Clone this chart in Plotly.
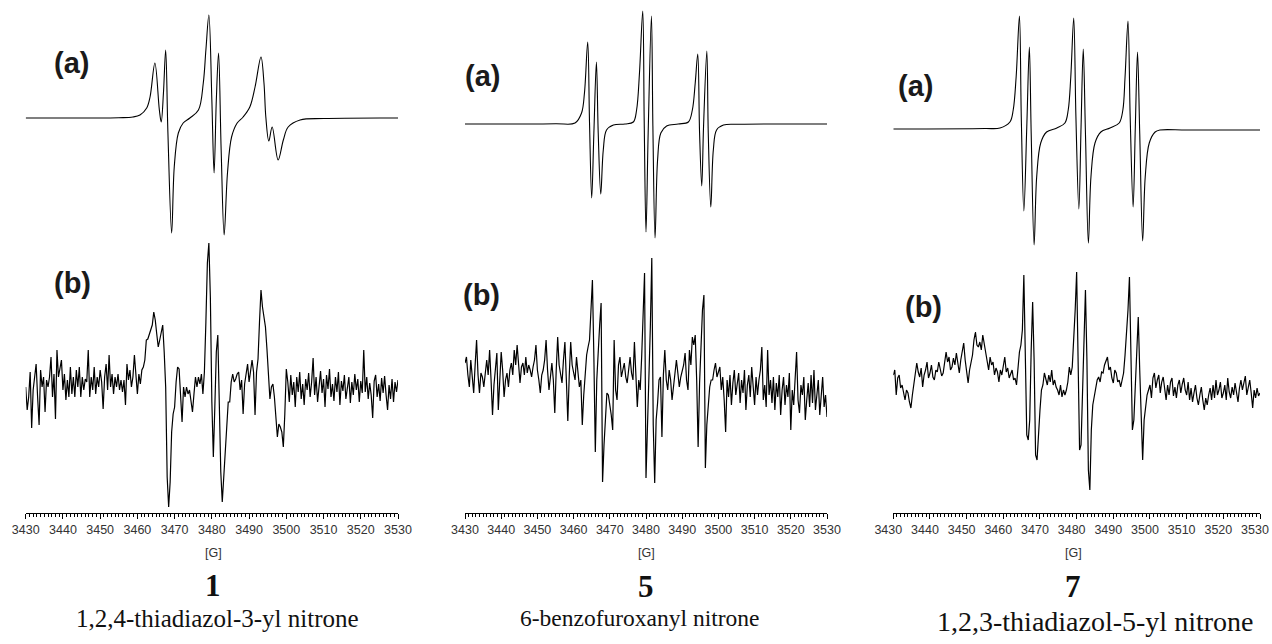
import numpy as np
import plotly.graph_objects as go

# ---------------- data ----------------
# magnetic field axis [G]
FIELD_MIN, FIELD_MAX = 3430, 3530
TICK_VALUES = list(range(3430, 3531, 10))

# (a) simulated spectra: (field [G], signal [a.u.]) key points
A1_FIELD = [3430, 3455, 3458.8, 3460.7, 3462.5, 3463.4, 3464.7, 3465.9, 3466.4, 3467.0,
            3467.6, 3468.2, 3469.2, 3469.9, 3471.0, 3472.3, 3474.1, 3476.4, 3477.7, 3478.4,
            3479.2, 3480.0, 3480.6, 3481.2, 3481.8, 3482.5, 3483.3, 3484.2, 3485.3, 3486.8,
            3488.4, 3490.2, 3491.6, 3493.2, 3494.0, 3494.5, 3495.3, 3496.2, 3497.8, 3499.2,
            3500.5, 3503.7, 3510, 3530]
A1_SIGNAL = [0, 0.3, 1, 3, 10, 21, 55, 8, -4, 25,
             68, -15, -115, -49, -15, -5, 0, 8, 35, 68,
             103, 18, -55, 18, 65, -32, -117, -55, -19, -5,
             1, 11, 31, 61, 35, 1, -23, -9, -42, -22,
             -9, -2, -0.5, 0]

A5_FIELD = [3430, 3455, 3460.4, 3462.2, 3463.0, 3463.9, 3464.4, 3465.0, 3465.6, 3466.3,
            3466.8, 3467.5, 3468.2, 3469.1, 3471.0, 3474.2, 3476.5, 3477.4, 3478.2, 3479.1,
            3479.5, 3480.0, 3480.6, 3481.5, 3481.9, 3482.5, 3483.2, 3484.1, 3485.7, 3488.9,
            3491.7, 3492.8, 3493.6, 3494.3, 3494.8, 3495.4, 3495.9, 3496.8, 3497.2, 3497.9,
            3498.6, 3499.5, 3501.4, 3506, 3530]
A5_SIGNAL = [0, 0.3, 1, 11, 31, 82, 1, -74, -9, 62,
             -9, -70, -26, -6, -1, 0, 2, 14, 51, 113,
             4, -108, -9, 108, -2, -114, -36, -9, -2, 0,
             2, 14, 41, 70, -9, -62, -2, 73, -9, -83,
             -26, -6, -1, -0.3, 0]

A7_FIELD = [3430, 3455, 3459.1, 3461.8, 3462.7, 3463.5, 3464.4, 3464.9, 3465.6, 3466.4,
            3467.1, 3467.6, 3468.4, 3469.1, 3470.2, 3471.8, 3474.6, 3476.8, 3477.7, 3478.4,
            3479.2, 3479.8, 3480.6, 3481.2, 3481.8, 3482.4, 3483.2, 3483.9, 3485.0, 3486.6,
            3489.1, 3491.6, 3492.6, 3493.2, 3494.0, 3494.6, 3495.4, 3496.0, 3496.6, 3497.2,
            3498.0, 3498.7, 3499.8, 3501.4, 3502.7, 3510, 3530]
A7_SIGNAL = [0, 0.5, 1, 7, 19, 52, 113, 12, -82, 2,
             82, -4, -116, -48, -14, -3, 1, 6, 19, 52,
             111, 12, -80, 2, 80, -4, -114, -48, -14, -3,
             1, 6, 19, 52, 108, 12, -78, 2, 77, -4,
             -112, -48, -14, -3, -1, -1, -1]

# (b) experimental spectra, sampled every 0.4 G over the sweep 3430-3530 G
B1_SIGNAL = [0, -23, -10, 15, -41, -3, 10, 23, -10, -38,
             17, 0, 10, -25, 7, 0, 10, 30, -10, 13,
             -32, 37, 10, 20, 27, -3, 13, -13, 7, -10,
             20, -7, 10, -10, 17, 0, 20, -10, 10, -3,
             8, 5, 37, -10, 10, -3, 20, -7, 10, 0,
             17, 5, -22, 10, 23, -3, 32, 0, 13, -7,
             10, 0, 13, -3, 7, -5, 7, -18, 23, 7,
             17, 0, 10, 32, 10, -7, 13, 3, 17, 20,
             27, 47, 48, 52, 56, 62, 75, 67, 53, 40,
             47, 55, 62, 35, 0, -90, -120, -95, -45, -27,
             -20, 5, 20, 18, -10, -35, 0, -10, 0, -7,
             -3, -15, -25, -7, 10, 0, 10, 3, 13, -7,
             15, 65, 124, 144, 90, -15, -70, -20, 35, 52,
             -15, -85, -115, -88, -65, -40, -15, -15, 5, 13,
             5, 8, 13, 15, -3, 7, -27, 3, 15, 23,
             5, 15, 27, 15, -28, 15, 28, 65, 97, 80,
             67, 60, 38, 10, -12, 0, 3, -10, -30, -50,
             -37, -40, -45, -60, -27, 18, 5, -15, 12, -8,
             5, -20, 10, -5, 15, -12, 3, -18, 8, -3,
             14, -10, 5, 29, -8, 10, -15, 4, 16, -6,
             8, -20, 12, -2, 18, -10, 3, -14, 10, -5,
             15, -18, 6, -4, 12, -12, 2, 10, -16, 5,
             -8, 13, -3, 8, -15, 6, -6, 37, -5, 10,
             -12, 4, -8, -31, 6, 12, -10, 3, -14, 9,
             -6, 11, -8, -23, 2, -12, 8, -15, 5, -5,
             7]

B5_SIGNAL = [22, 28, 10, -2, 25, 5, -8, 20, 45, 10,
             -8, 12, 8, -2, 15, 25, 10, 35, 5, -30,
             0, 15, 32, -25, 10, 33, 15, -12, 5, 12,
             -2, 15, 22, 10, 35, 20, 40, 15, 2, 18,
             22, 10, 28, 12, 20, 15, 8, 18, 25, 40,
             15, 5, -8, 10, 15, 25, 45, 15, -5, 8,
             22, 5, -28, 15, 48, 20, 10, 2, 25, 43,
             5, -36, 10, 43, 20, 12, 5, 28, 15, -2,
             5, -40, -10, 8, 30, 38, 45, 75, 105, 28,
             -67, 5, 42, 60, 82, -97, -60, -38, -8, -10,
             -18, -30, -45, 45, -5, -15, 20, 28, 8, 15,
             22, 8, 2, 15, 28, 12, 5, 43, 10, -22,
             5, -5, 28, 80, 112, -93, -45, -2, 58, 127,
             -40, -98, -35, -18, 5, 8, -52, 10, 35, 5,
             -5, 15, 5, -15, 0, 8, 25, 12, -2, 8,
             15, 20, 32, 5, -5, 35, 20, 48, 40, 50,
             5, -62, 2, 35, 75, 90, -83, -40, -20, -2,
             5, 5, 15, 22, 8, 12, 18, -5, 8, -15,
             -47, 5, -12, 10, -20, 2, 15, -10, 0, 12,
             -18, 5, -8, 15, -25, 0, 10, -12, 18, -5,
             -20, 8, -10, 5, 15, 38, -15, 0, -22, 35,
             -10, 5, -18, 8, -25, 2, -12, 10, -30, -5,
             8, -20, 0, -12, 12, -45, -5, -20, 5, 33,
             -15, -28, 0, -10, 8, -35, -15, 2, -22, 10,
             -18, 15, -25, -8, 5, -30, -12, 8, -22, -10,
             -32]

B7_SIGNAL = [15, 20, -5, 12, 15, 2, 5, -5, -10, 0,
             -3, -12, -18, -5, 5, 15, 27, 18, 13, 22,
             3, 15, 20, 28, 12, 17, 25, 13, 10, 20,
             18, 28, 22, 14, 17, 30, 38, 28, 33, 20,
             23, 32, 25, 37, 28, 17, 30, 40, 47, 30,
             18, 7, 20, 27, 35, 50, 58, 45, 43, 48,
             40, 55, 45, 38, 30, 20, 33, 25, 28, 15,
             22, 18, 8, 20, 15, 25, 33, 18, 22, 12,
             17, 20, 10, 12, 5, 25, 38, 45, 60, 115,
             40, -45, -50, -30, 40, 88, 30, -65, -70, -40,
             -20, 0, 5, 17, 10, 5, 15, 8, 20, 5,
             10, 3, 0, -5, 5, -7, 0, -5, 0, 8,
             23, 15, 23, 50, 80, 118, 35, -60, -55, -10,
             40, 100, 30, -80, -100, -40, -15, -5, 2, 10,
             13, 8, 18, 17, 25, 30, 33, 20, 23, 12,
             7, 20, 17, 8, 10, 3, 12, 17, 35, 55,
             80, 113, 50, -40, -30, 5, 27, 73, 20, -40,
             -70, -30, -15, -5, 0, 5, -8, 12, 17, 2,
             10, 15, -3, 8, 13, 0, -10, 5, -5, 8,
             12, -6, 3, -8, 5, 10, -3, 6, 12, 0,
             -5, 8, -10, 2, -12, -3, 5, -8, -15, -5,
             3, -10, -20, -8, -15, -5, 2, -10, 5, -8,
             10, -5, 0, 8, -8, -3, 5, -10, 12, -2,
             -8, 3, -5, 7, -3, -12, 2, 10, 0, 8,
             14, -5, 5, 10, -3, -18, 0, -8, 2, -6,
             -3]

COMPOUNDS = ["1", "5", "7"]
COMPOUND_NAMES = ["1,2,4-thiadiazol-3-yl nitrone",
                  "6-benzofuroxanyl nitrone",
                  "1,2,3-thiadiazol-5-yl nitrone"]

# ---------------- layout / styling ----------------
W, H = 1272, 644
PLOT_BOTTOM = 513            # page y of the field axis line
AXIS_PX = [(25.7, 398.0), (465.0, 827.0), (893.3, 1260.0)]   # panel x extents in px
LABEL_SHIFT = [0, 0, -5]     # horizontal shift of tick labels per panel (px)
OFFSET_A = [395, 389, 384]   # vertical offset of the (a) trace in each panel
OFFSET_B = [126, 128, 123]   # vertical offset of the (b) trace in each panel

panels = [
    (A1_FIELD, A1_SIGNAL, B1_SIGNAL),
    (A5_FIELD, A5_SIGNAL, B5_SIGNAL),
    (A7_FIELD, A7_SIGNAL, B7_SIGNAL),
]

fig = go.Figure()
for k, (af, asig, bsig) in enumerate(panels):
    xa = "x" if k == 0 else f"x{k + 1}"
    a_y = [OFFSET_A[k] + v for v in asig]
    fig.add_trace(go.Scatter(x=af, y=a_y, mode="lines", xaxis=xa, yaxis="y",
                             line=dict(color="black", width=1.1, shape="spline", smoothing=1.0),
                             hoverinfo="skip"))
    b_field = np.linspace(FIELD_MIN, FIELD_MAX, len(bsig))
    b_y = [OFFSET_B[k] + v for v in bsig]
    fig.add_trace(go.Scatter(x=b_field, y=b_y, mode="lines", xaxis=xa, yaxis="y",
                             line=dict(color="black", width=1.2),
                             hoverinfo="skip"))

axis_common = dict(
    range=[FIELD_MIN, FIELD_MAX], tickmode="array", tickvals=TICK_VALUES,
    ticktext=[str(t) for t in TICK_VALUES],
    showline=True, linecolor="black", linewidth=1,
    ticks="outside", ticklen=5, tickwidth=1, tickcolor="black",
    minor=dict(dtick=1, tick0=3430, ticks="outside", ticklen=3, tickwidth=1, tickcolor="black"),
    showgrid=False, zeroline=False, fixedrange=True, automargin=False,
    ticklabeloverflow="allow",
    tickfont=dict(family="Liberation Sans, Arial, sans-serif", size=12.5, color="#333333"),
    anchor="y",
)
for k, (x0, x1) in enumerate(AXIS_PX):
    name = "xaxis" if k == 0 else f"xaxis{k + 1}"
    fig.layout[name] = dict(domain=[x0 / W, x1 / W], ticklabelshift=LABEL_SHIFT[k], **axis_common)

fig.update_layout(
    width=W, height=H, autosize=False,
    margin=dict(l=0, r=0, t=0, b=H - PLOT_BOTTOM, pad=0, autoexpand=False),
    paper_bgcolor="white", plot_bgcolor="white",
    showlegend=False,
    yaxis=dict(range=[0, PLOT_BOTTOM], visible=False, fixedrange=True, automargin=False),
)

def py(page_y):
    """page pixel row -> paper fraction of the plot area"""
    return (PLOT_BOTTOM - page_y) / PLOT_BOTTOM

label_font = dict(family="Liberation Sans, Arial, sans-serif", size=29, color="#1a1a1a")
a_pos = [(71, 63), (482, 76), (915, 86)]
b_pos = [(72, 283), (481, 295), (923, 307)]
centers = [213, 646, 1073]
num_y = [585, 586, 586]
name_x = [217.5, 640, 1095]
name_y = [618, 618, 621]
name_size = [25, 23.5, 28]

ann = []
for k in range(3):
    ann.append(dict(text="<b>(a)</b>", x=a_pos[k][0] / W, y=py(a_pos[k][1]),
                    xref="paper", yref="paper", showarrow=False, font=label_font,
                    xanchor="center", yanchor="middle"))
    ann.append(dict(text="<b>(b)</b>", x=b_pos[k][0] / W, y=py(b_pos[k][1]),
                    xref="paper", yref="paper", showarrow=False, font=label_font,
                    xanchor="center", yanchor="middle"))
    ann.append(dict(text="[G]", x=centers[k] / W, y=py(553),
                    xref="paper", yref="paper", showarrow=False,
                    font=dict(family="Liberation Sans, Arial, sans-serif", size=12.5, color="#333333"),
                    xanchor="center", yanchor="middle"))
    ann.append(dict(text="<b>" + COMPOUNDS[k] + "</b>", x=centers[k] / W, y=py(num_y[k]),
                    xref="paper", yref="paper", showarrow=False,
                    font=dict(family="Liberation Serif, Times New Roman, serif", size=31, color="#111111"),
                    xanchor="center", yanchor="middle"))
    ann.append(dict(text=COMPOUND_NAMES[k], x=name_x[k] / W, y=py(name_y[k]),
                    xref="paper", yref="paper", showarrow=False,
                    font=dict(family="Liberation Serif, Times New Roman, serif", size=name_size[k],
                              color="#111111"),
                    xanchor="center", yanchor="middle"))
fig.update_layout(annotations=ann)

fig.write_html("out.html", config={"displayModeBar": False},
               post_script="document.body.style.margin='0px';")
